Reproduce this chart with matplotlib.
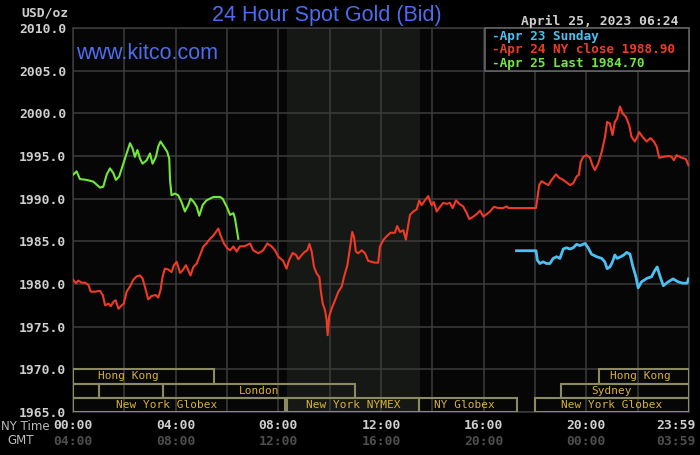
import matplotlib
matplotlib.use("Agg")
import matplotlib.pyplot as plt
from matplotlib.patches import Rectangle

# ---------------- data ----------------
y_ticks = [1965, 1970, 1975, 1980, 1985, 1990, 1995, 2000, 2005, 2010]
x_tick_hours = [0, 4, 8, 12, 16, 20, 24]
ny_labels = ["00:00", "04:00", "08:00", "12:00", "16:00", "20:00", "23:59"]
gmt_labels = ["04:00", "08:00", "12:00", "16:00", "20:00", "00:00", "03:59"]

# Apr 24 (red) : hours (NY time), price
red_t = [0, 0.12, 0.21, 0.34, 0.47, 0.6, 0.69, 0.86, 1.05, 1.16, 1.25, 1.38, 1.47,
         1.57, 1.66, 1.77, 1.9, 1.98, 2.09, 2.22, 2.35, 2.48, 2.61, 2.71, 2.8, 2.93,
         3.06, 3.23, 3.32, 3.41, 3.49, 3.58, 3.71, 3.84, 3.93, 4.04, 4.17, 4.27, 4.4,
         4.49, 4.58, 4.69, 4.82, 4.95, 5.08, 5.21, 5.34, 5.47, 5.57, 5.66, 5.75, 5.88,
         6.01, 6.12, 6.25, 6.38, 6.5, 6.7, 6.9, 7.02, 7.22, 7.41, 7.57, 7.74, 7.87,
         8.0, 8.19, 8.32, 8.42, 8.56, 8.69, 8.78, 8.91, 9.04, 9.13, 9.21, 9.3, 9.39,
         9.49, 9.6, 9.65, 9.73, 9.82, 9.88, 9.92, 9.98, 10.08, 10.21, 10.34, 10.47,
         10.56, 10.69, 10.8, 10.88, 10.95, 11.02, 11.11, 11.25, 11.38, 11.5, 11.64,
         11.76, 11.89, 11.96, 12.09, 12.22, 12.37, 12.54, 12.63, 12.74, 12.87, 12.97,
         13.06, 13.13, 13.26, 13.39, 13.49, 13.58, 13.71, 13.84, 13.97, 14.06, 14.17,
         14.3, 14.42, 14.56, 14.69, 14.79, 14.92, 15.05, 15.2, 15.34, 15.44, 15.6,
         15.73, 15.86, 15.99, 16.12, 16.25, 16.4, 16.57, 16.76, 16.9, 16.96, 18.04,
         18.09, 18.17, 18.26, 18.39, 18.52, 18.65, 18.82, 18.94, 19.1, 19.23, 19.36,
         19.49, 19.62, 19.71, 19.78, 19.88, 20.01, 20.14, 20.24, 20.33, 20.46, 20.6,
         20.72, 20.81, 20.92, 21.02, 21.11, 21.2, 21.31, 21.41, 21.54, 21.67, 21.76,
         21.89, 21.96, 22.06, 22.19, 22.35, 22.5, 22.63, 22.74, 22.84, 23.0, 23.19,
         23.32, 23.41, 23.52, 23.71, 23.88, 23.98]
red_v = [1980.5, 1980.1, 1980.4, 1980.15, 1980.15, 1979.9, 1979.1, 1979.1, 1979.2,
         1978.7, 1977.5, 1977.7, 1977.4, 1977.9, 1978.1, 1977.1, 1977.5, 1977.7,
         1979.1, 1979.7, 1980.5, 1980.9, 1981.0, 1980.65, 1979.7, 1978.2, 1978.6,
         1978.7, 1978.4, 1979.3, 1980.85, 1981.8, 1981.7, 1981.4, 1982.2, 1982.6,
         1981.3, 1981.6, 1982.2, 1981.6, 1981.0, 1982.0, 1982.4, 1983.4, 1984.4,
         1984.8, 1985.3, 1985.7, 1986.1, 1986.5, 1985.7, 1984.75, 1984.2, 1983.95,
         1984.4, 1983.8, 1984.4, 1984.45, 1984.75, 1983.95, 1983.6, 1983.95, 1984.75,
         1984.4, 1983.95, 1983.2, 1982.7, 1981.8, 1982.8, 1983.65, 1983.4, 1982.9,
         1983.4, 1983.8, 1983.95, 1984.7, 1983.8, 1982.0, 1981.25, 1980.8, 1979.3,
         1977.7, 1976.9, 1975.8, 1974.0, 1976.2, 1977.15, 1978.1, 1979.1, 1979.7,
         1980.85, 1982.2, 1984.4, 1986.1, 1985.5, 1983.8, 1983.6, 1983.95, 1983.6,
         1982.7, 1982.6, 1982.5, 1982.5, 1984.4, 1985.15, 1985.6, 1986.0, 1986.0,
         1986.8, 1986.1, 1986.3, 1985.2, 1986.9, 1988.1, 1988.5, 1988.75, 1989.8,
         1989.25, 1989.8, 1990.3, 1989.25, 1989.6, 1988.5, 1989.05, 1989.5, 1989.4,
         1989.5, 1988.9, 1989.8, 1989.4, 1989.1, 1988.3, 1987.6, 1987.9, 1988.2,
         1988.6, 1987.9, 1988.2, 1988.5, 1989.05, 1988.9, 1988.9, 1989.1, 1988.9,
         1988.9, 1990.0, 1991.65, 1992.05, 1991.8, 1991.6, 1992.2, 1992.85, 1992.45,
         1992.2, 1991.9, 1991.6, 1991.8, 1992.6, 1992.8, 1994.3, 1994.9, 1995.1,
         1994.8, 1993.9, 1993.35, 1994.1, 1995.5, 1997.1, 1999.0, 1998.8, 1997.45,
         1999.0, 1999.4, 2000.8, 2000.0, 1999.6, 1998.6, 1997.25, 1996.7, 1997.1,
         1997.8, 1997.25, 1996.7, 1997.1, 1996.7, 1996.1, 1994.8, 1994.9, 1995.0,
         1994.9, 1994.5, 1995.1, 1994.8, 1994.65, 1993.9]

# Apr 23 Sunday (blue)
blue_t = [17.28, 18.04, 18.09, 18.19, 18.32, 18.45, 18.58, 18.71, 18.84, 18.97, 19.1,
          19.23, 19.36, 19.49, 19.62, 19.75, 19.95, 20.08, 20.2, 20.4, 20.6, 20.72,
          20.81, 20.92, 21.02, 21.11, 21.2, 21.34, 21.46, 21.57, 21.7, 21.8, 21.93,
          22.02, 22.15, 22.35, 22.54, 22.67, 22.76, 22.86, 23.0, 23.19, 23.38, 23.58,
          23.75, 23.93, 23.98]
blue_v = [1983.9, 1983.9, 1982.8, 1982.4, 1982.6, 1982.4, 1982.4, 1983.0, 1983.2,
          1983.0, 1984.1, 1984.25, 1984.1, 1984.25, 1984.65, 1984.5, 1984.75, 1984.2,
          1983.5, 1983.2, 1983.0, 1982.6, 1981.8, 1982.0, 1982.6, 1983.4, 1983.0,
          1983.2, 1983.4, 1983.7, 1983.5, 1982.2, 1980.85, 1979.55, 1980.25, 1980.65,
          1980.85, 1981.6, 1982.0, 1981.0, 1979.8, 1980.25, 1980.6, 1980.25, 1980.1,
          1980.1, 1980.6]

# Apr 25 (green)
green_t = [0, 0.14, 0.27, 0.53, 0.79, 1.05, 1.18, 1.31, 1.44, 1.57, 1.67, 1.8, 1.96,
           2.09, 2.22, 2.32, 2.41, 2.51, 2.61, 2.71, 2.87, 3.0, 3.1, 3.23, 3.32, 3.41,
           3.54, 3.67, 3.75, 3.78, 3.84, 3.97, 4.1, 4.23, 4.36, 4.49, 4.58, 4.71, 4.82,
           4.92, 5.05, 5.2, 5.47, 5.73, 5.83, 5.99, 6.12, 6.25, 6.31, 6.44]
green_v = [1992.8, 1993.2, 1992.3, 1992.2, 1992.0, 1991.3, 1991.4, 1992.8, 1993.55,
           1993.0, 1992.2, 1992.6, 1994.1, 1995.3, 1996.5, 1995.9, 1994.9, 1995.7,
           1994.7, 1994.1, 1994.5, 1995.3, 1994.1, 1994.9, 1996.1, 1996.7, 1996.1,
           1995.5, 1994.7, 1992.2, 1990.4, 1990.6, 1990.4, 1989.6, 1988.5, 1989.25,
           1990.0, 1989.6, 1989.05, 1988.0, 1989.25, 1989.8, 1990.2, 1990.2, 1990.0,
           1989.05, 1988.1, 1988.3, 1987.7, 1985.3]

legend_texts = ["-Apr 23 Sunday", "-Apr 24 NY close 1988.90", "-Apr 25 Last 1984.70"]

# trading sessions: label, start hour, end hour, row (0 = top), label centre hour
session_labels = ["Hong Kong", "Hong Kong", "", "", "London", "Sydney",
                  "New York Globex", "New York NYMEX", "NY Globex", "New York Globex"]
session_start = [0, 20.5, 0, 1, 3.5, 19, 0, 8.33, 13.5, 18]
session_end = [5.5, 24, 1, 3.5, 11, 24, 8.25, 13.5, 17.3, 24]
session_row = [0, 0, 1, 1, 1, 1, 2, 2, 2, 2]
session_label_at = [2.14, 22.1, 0.5, 2.25, 7.25, 21.0, 3.66, 10.9, 15.25, 21.0]
nymex_open, nymex_close = 8 + 20 / 60, 13.5

# ---------------- styling ----------------
BG = "#000000"
GRID = "#3c3c3c"
TXT = "#cfcfcf"
GMT_C = "#4e4e4e"
BLUE_T = "#4d6cf0"
MONO = "DejaVu Sans Mono"
SESS_EDGE = "#8c8a60"
SESS_TXT = "#d8b232"

fig = plt.figure(figsize=(7.0, 4.55), dpi=100, facecolor=BG)
ax = fig.add_axes([73 / 700, 1 - 412 / 455, 616 / 700, 384 / 455])
ax.set_facecolor("#060606")
ax.set_xlim(0, 24)
ax.set_ylim(1965, 2010)

ax.axvspan(nymex_open, nymex_close, color="#161816", zorder=0, lw=0)

ax.set_xticks(range(0, 25, 2))
ax.set_xticklabels([])
ax.set_yticks(y_ticks)
ax.set_yticklabels([f"{v:.1f}" for v in y_ticks], fontfamily=MONO,
                   fontweight="bold", fontsize=9.4, color=TXT)
ax.tick_params(axis="both", length=0, pad=5)
ax.grid(True, color=GRID, lw=1.1, zorder=1)
ax.set_axisbelow(True)
for s in ax.spines.values():
    s.set_color(GRID)
    s.set_linewidth(1.1)

# session boxes
row_h = 5 / 3
for lab, s, e, r, la in zip(session_labels, session_start, session_end,
                            session_row, session_label_at):
    y0 = 1970 - (r + 1) * row_h
    ax.add_patch(Rectangle((s, y0), e - s, row_h, fill=False, edgecolor=SESS_EDGE,
                           lw=1.5, zorder=3))
    if lab:
        ax.text(la, y0 + row_h / 2, lab, ha="center", va="center", fontsize=8,
                fontfamily=MONO, color=SESS_TXT, zorder=4)

# lines
ax.plot(red_t, red_v, color="#f03a24", lw=1.5, zorder=5)
ax.plot(blue_t, blue_v, color="#4cc0f0", lw=2.0, zorder=5)
ax.plot(green_t, green_v, color="#72e83a", lw=1.5, zorder=6)

# legend box
ax.add_patch(Rectangle((0.669, 0.888), 0.331, 0.112, transform=ax.transAxes,
                       facecolor="black", edgecolor="#6a6a6a", lw=1.1, zorder=8,
                       clip_on=False))
for txt, c, yy in zip(legend_texts, ["#4cc0f0", "#f03a24", "#72e83a"],
                      [0.978, 0.943, 0.907]):
    ax.text(0.680, yy, txt, transform=ax.transAxes, ha="left", va="center",
            fontsize=9.2, fontfamily=MONO, fontweight="bold", color=c, zorder=9)

# x labels (two rows)
xt = ax.get_xaxis_transform()
for h, a, b in zip(x_tick_hours, ny_labels, gmt_labels):
    hh = 23.5 if h == 24 else h
    ax.text(hh, -0.036, a, transform=xt, ha="center", va="center", fontsize=9.4,
            fontfamily=MONO, fontweight="bold", color=TXT, clip_on=False)
    ax.text(hh, -0.076, b, transform=xt, ha="center", va="center", fontsize=9.4,
            fontfamily=MONO, fontweight="bold", color=GMT_C, clip_on=False)
fig.text(25 / 700, 1 - 426 / 455, "NY Time", ha="center", va="center",
         fontsize=8.5, color="#bdbdbd")
fig.text(21 / 700, 1 - 441 / 455, "GMT", ha="center", va="center",
         fontsize=8.5, color="#bdbdbd")

# headers
fig.text(44.5 / 700, 1 - 13.5 / 455, "USD/oz", ha="center", va="center",
         fontsize=9.4, fontfamily=MONO, fontweight="bold", color=TXT)
fig.text(327 / 700, 1 - 15.5 / 455, "24 Hour Spot Gold (Bid)", ha="center",
         va="center", fontsize=15.5, fontfamily="Liberation Sans", color=BLUE_T)
fig.text(600 / 700, 1 - 21 / 455, "April 25, 2023 06:24", ha="center",
         va="center", fontsize=9.4, fontfamily=MONO, fontweight="bold", color=TXT)
ax.text(0.005, 0.934, "www.kitco.com", transform=ax.transAxes, ha="left",
        va="center", fontsize=15.5, fontfamily="Liberation Sans", color=BLUE_T,
        zorder=7)

fig.savefig("out.png", dpi=100, facecolor=BG)
